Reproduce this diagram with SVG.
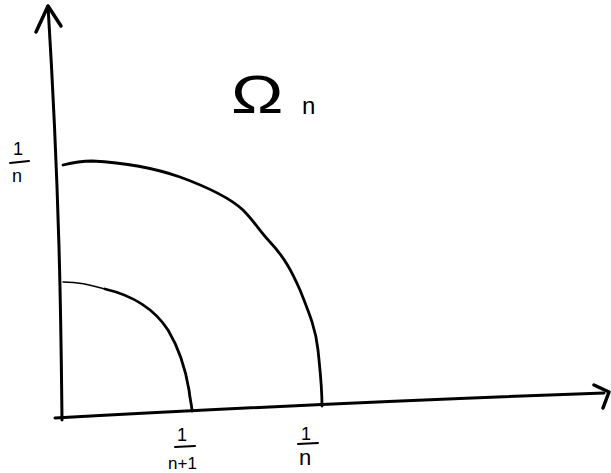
<svg xmlns="http://www.w3.org/2000/svg" width="611" height="473" viewBox="0 0 611 473">
<style>
.ln{fill:none;stroke:#000;stroke-linecap:round;stroke-linejoin:round}
.t{font-family:"Liberation Sans",Arial,sans-serif;fill:#000}
</style>
<rect width="611" height="473" fill="#fff"/>
<g id="axes">
<path class="ln" stroke-width="3" d="M62,420 C61,330 60,200 48,6"/>
<path class="ln" stroke-width="3.5" d="M36,32 L48,6 L61,26"/>
<path class="ln" stroke-width="3" d="M55,418 C200,410 400,400 604,393"/>
<path class="ln" stroke-width="3.5" d="M594,385 L609,392 L603,408"/>
</g>
<g id="outer-curve">
<path class="ln" stroke-width="2.8" d="M63,165 C75,162 82,161 92,161 C130,163 160,170 180,177 C210,188 230,198 243,210 C255,222 260,232 270,242 C285,258 292,272 300,290 C310,315 316,330 318,350 C320,370 322,385 322,406"/>
</g>
<g id="inner-curve">
<path class="ln" stroke-width="1.5" d="M63,282 C80,282 90,285 105,289"/>
<path class="ln" stroke-width="2.8" d="M105,289 C135,296 155,310 168,330 C180,350 186,372 189,390 C190,400 192,406 192,411"/>
</g>
<g id="label-omega">
<text class="t" font-size="54" transform="translate(231,113) scale(1.3,1)">Ω</text>
<text class="t" x="302" y="114" font-size="24">n</text>
</g>
<g id="label-y">
<text class="t" x="13" y="155" font-size="18">1</text>
<path class="ln" stroke-width="2" d="M10,163 L29,161"/>
<text class="t" x="12" y="182" font-size="18">n</text>
</g>
<g id="label-x1">
<text class="t" x="177" y="441" font-size="18">1</text>
<path class="ln" stroke-width="2" d="M175,447 L195,446"/>
<text class="t" x="168" y="469" font-size="17">n+1</text>
</g>
<g id="label-x2">
<text class="t" x="301" y="440" font-size="18">1</text>
<path class="ln" stroke-width="2" d="M298,444 L318,443"/>
<text class="t" x="299" y="465" font-size="22">n</text>
</g>
</svg>
